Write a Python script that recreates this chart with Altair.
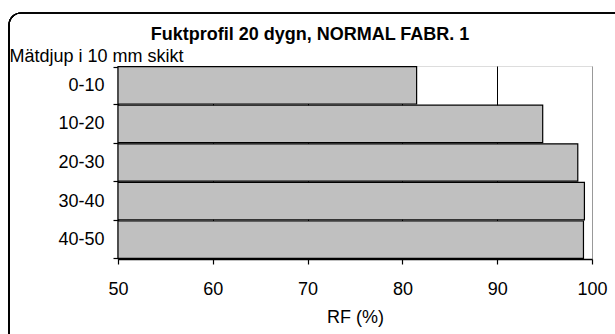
import altair as alt
import pandas as pd

depths = ["0-10", "10-20", "20-30", "30-40", "40-50"]
rf_values = [81.5, 94.8, 98.5, 99.2, 99.1]
x_ticks = [50, 60, 70, 80, 90, 100]
x_start = 50

df = pd.DataFrame({"depth": depths, "rf": rf_values})

FONT = "Liberation Sans"
FS = 18

frame = alt.Chart(df).mark_rect(
    fill=None, stroke="black", strokeWidth=1.2, cornerRadius=12, clip=False
).encode(
    x=alt.value(-109), x2=alt.value(510), y=alt.value(-53), y2=alt.value(280)
)

bars = alt.Chart(df).mark_bar(
    color="#c0c0c0", stroke="black", strokeWidth=1.2
).encode(
    x=alt.X("rf:Q",
            scale=alt.Scale(domain=[50, 100], nice=False, zero=False),
            axis=alt.Axis(values=x_ticks, title="RF (%)", grid=True,
                          gridColor={"expr": "datum.value == 100 ? '#999999' : 'black'"},
                          gridWidth=1, domainColor="black", domainWidth=1.5,
                          tickColor="black", tickSize=5, tickWidth=1.2,
                          labelFlush=False,
                          labelFontSize=FS, labelFont=FONT, labelColor="black",
                          labelPadding=16, titleFontSize=FS, titleFont=FONT,
                          titleFontWeight="normal", titleColor="black", titlePadding=10)),
    x2=alt.datum(x_start),
    y=alt.Y("depth:N", sort=depths,
            scale=alt.Scale(paddingInner=0.03, paddingOuter=0.015),
            axis=alt.Axis(title="Mätdjup i 10 mm skikt", titleAngle=0,
                          titleAlign="left", titleBaseline="alphabetic",
                          titleX=-109, titleY=-5, titleFontSize=FS, titleFont=FONT,
                          titleFontWeight="normal", titleColor="black",
                          tickBand="extent", tickSize=5, tickColor="black", tickWidth=1.2,
                          domainColor="black", domainWidth=1.5, grid=False,
                          labelFontSize=FS, labelFont=FONT, labelColor="black",
                          labelPadding=9)),
)

chart = alt.layer(frame, bars).properties(
    width=474, height=193,
    autosize=alt.AutoSizeParams(type="none"),
    padding={"left": 118, "top": 66, "right": 23, "bottom": 75},
    title=alt.TitleParams("Fuktprofil 20 dygn, NORMAL FABR. 1", font=FONT, fontSize=FS,
                          fontWeight="bold", color="black", anchor="middle",
                          baseline="alphabetic",
                          frame="group", dx=-45, offset=-46),
).configure_view(stroke="#999999", strokeWidth=1).configure(background="white")

chart.save("out.html", embed_options={"renderer": "svg", "actions": False})
